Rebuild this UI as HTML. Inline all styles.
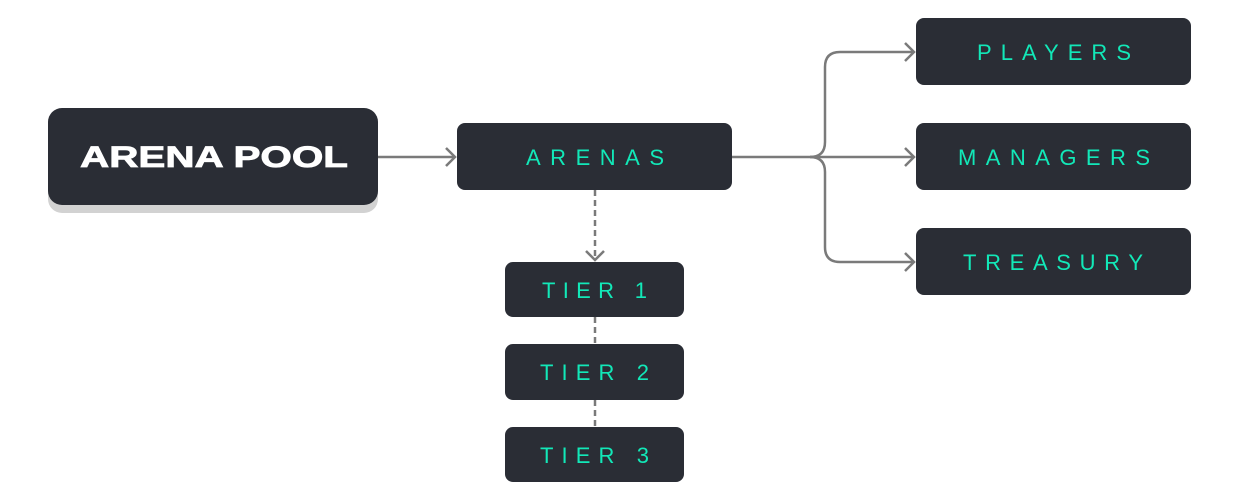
<!DOCTYPE html>
<html><head><style>html,body{margin:0;padding:0;background:#fff}svg{display:block}</style></head>
<body>
<svg width="1240" height="500" viewBox="0 0 1240 500" xmlns="http://www.w3.org/2000/svg" font-family="Liberation Sans, sans-serif">
<rect x="48" y="116" width="330" height="97" rx="14" fill="#d2d2d2"/>
<rect x="48" y="108" width="330" height="97" rx="14" fill="#2a2d35"/>
<text x="80" y="167" font-size="30" font-weight="bold" fill="#fff" stroke="#fff" stroke-width="0.8" textLength="268" lengthAdjust="spacingAndGlyphs">ARENA POOL</text>
<g stroke="#7a7a7a" stroke-width="2.5" fill="none">
<path d="M378 157 H455"/><path d="M446 148 L455 157 L446 166"/>
<path d="M732 157 H914"/>
<path d="M810 157 Q825 157 825 142 V67 Q825 52 840 52 H914"/>
<path d="M810 157 Q825 157 825 172 V247 Q825 262 840 262 H914"/>
<path d="M905 43 L914 52 L905 61"/><path d="M905 148 L914 157 L905 166"/><path d="M905 253 L914 262 L905 271"/>
<path d="M595 190 V260" stroke-dasharray="6 4"/><path d="M586 251 L595 260 L604 251"/>
<path d="M595 317 V344" stroke-dasharray="6 4"/><path d="M595 400 V427" stroke-dasharray="6 4"/>
</g>
<g fill="#2a2d35">
<rect x="457" y="123" width="275" height="67" rx="8"/>
<rect x="916" y="18" width="275" height="67" rx="8"/>
<rect x="916" y="123" width="275" height="67" rx="8"/>
<rect x="916" y="228" width="275" height="67" rx="8"/>
<rect x="505" y="262" width="179" height="55" rx="8"/>
<rect x="505" y="344" width="179" height="56" rx="8"/>
<rect x="505" y="427" width="179" height="55" rx="8"/>
</g>
<g fill="#12e8b8" font-size="22">
<text x="526" y="165" textLength="138" lengthAdjust="spacing">ARENAS</text>
<text x="977" y="60" textLength="154" lengthAdjust="spacing">PLAYERS</text>
<text x="958" y="165" textLength="192" lengthAdjust="spacing">MANAGERS</text>
<text x="963" y="270" textLength="180" lengthAdjust="spacing">TREASURY</text>
<text x="542" y="298" textLength="105" lengthAdjust="spacing">TIER 1</text>
<text x="540" y="380" textLength="109" lengthAdjust="spacing">TIER 2</text>
<text x="540" y="463" textLength="109" lengthAdjust="spacing">TIER 3</text>
</g>
</svg>
</body></html>
